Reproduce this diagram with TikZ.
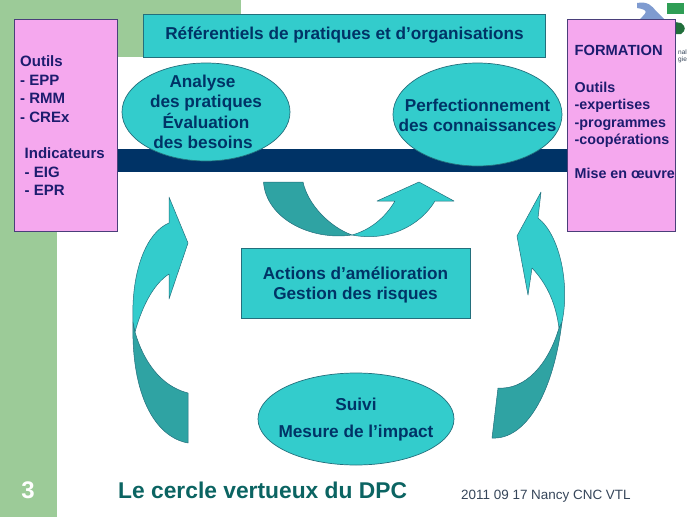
\documentclass[tikz,border=0pt]{standalone}
\usepackage{fontspec}
\setmainfont{Liberation Sans}
\usetikzlibrary{shapes.geometric}
\definecolor{sage}{HTML}{9CCB98}
\definecolor{tealfill}{HTML}{33CCCC}
\definecolor{tealdark}{HTML}{2FA3A3}
\definecolor{tealedge}{HTML}{236F7C}
\definecolor{orchid}{HTML}{F5A8EE}
\definecolor{orchidedge}{HTML}{4A3F7A}
\definecolor{navy}{HTML}{003366}
\definecolor{plum}{HTML}{1C1C6E}
\definecolor{pine}{HTML}{0B6462}
\definecolor{slate}{HTML}{36465A}
\definecolor{logogreen}{HTML}{2F9E55}
\definecolor{logoblue}{HTML}{7F9BD0}
\tikzset{
  tealbox/.style={draw=tealedge,fill=tealfill,line width=0.7pt,inner sep=0pt},
  tealoval/.style={tealbox,ellipse},
  pinkbox/.style={draw=orchidedge,fill=orchid,line width=0.7pt,inner sep=0pt},
  lighthook/.style={draw=tealedge,fill=tealfill,line width=0.5pt,line join=round},
  darkhook/.style={draw=tealedge,fill=tealdark,line width=0.5pt,line join=round},
  bluetext/.style={text=navy,font=\fontsize{17.2}{20.5}\selectfont\bfseries,align=center,inner sep=0pt},
  sidetext/.style={text=plum,font=\fontsize{15}{18.5}\selectfont\bfseries,align=left,inner sep=0pt,anchor=north west},
  formtext/.style={sidetext,font=\fontsize{14.3}{17.3}\selectfont\bfseries},
  logotext/.style={text=slate,font=\fontsize{6.5}{8}\selectfont,anchor=west,inner sep=0pt},
}
\begin{document}
\begin{tikzpicture}[x=1pt,y=-1pt]
  \useasboundingbox (0,0) rectangle (689,517);
  % slide background
  \fill[white] (0,0) rectangle (689,517);
  \fill[sage] (0,0) rectangle (57,517);
  \fill[sage] (0,0) rectangle (241,57);
  % logo behind the right box
  \fill[logogreen] (667,3) rectangle (684,14);
  \fill[logogreen!70!black] (675,22) -- (681,23) .. controls (686,26) and (686,31) .. (681,34) -- (675,34) -- cycle;
  \fill[logoblue] (637,3) .. controls (648,1) and (652,6) .. (656,11) -- (664,19) -- (640,19) .. controls (646,13) and (650,10) .. (637,8) -- cycle;
  \node[logotext] (logotop) at (678,52) {nal};
  \node[logotext] (logobot) at (678,60) {gie};
  % navy bar
  \fill[navy] (117,149) rectangle (567,172);
  % top box
  \node[tealbox,minimum width=402pt,minimum height=43pt,bluetext] (referentiels) at (344.5,35.5) {Référentiels de pratiques et d’organisations};
  % side boxes
  \node[pinkbox,minimum width=103pt,minimum height=212pt] (outilsbox) at (65.5,125) {};
  \node[pinkbox,minimum width=108pt,minimum height=212pt] (formationbox) at (621.5,125) {};
  \node[sidetext] (outilstext) at (20,55.5) {Outils\\- EPP\\- RMM\\- CREx};
  \node[sidetext] (indictext) at (24.5,147.5) {Indicateurs\\- EIG\\- EPR};
  \node[sidetext,font=\fontsize{14.7}{18}\selectfont\bfseries] (formationtext) at (574.5,45) {FORMATION};
  \node[formtext] (moyenstext) at (574.5,82) {Outils\\-expertises\\-programmes\\-coopérations};
  \node[formtext] (miseenoeuvre) at (574.5,168) {Mise en œuvre};
  % ovals
  \node[tealoval,minimum width=168pt,minimum height=98pt] (analyse) at (206,112) {};
  \node[bluetext] (analysetext) at (analyse) {Analyse\kern7pt\relax\\des pratiques\\Évaluation\\des besoins\kern6pt\relax};
  \node[tealoval,minimum width=169pt,minimum height=103pt] (perfection) at (477.5,114.5) {};
  \node[bluetext] (perfectiontext) at ([yshift=-1pt]perfection.center) {Perfectionnement\\des connaissances};
  \node[tealbox,minimum width=229pt,minimum height=70pt] (actions) at (355.5,283) {};
  \node[bluetext] (actionstext) at ([yshift=-2pt]actions.center) {Actions d’amélioration\\Gestion des risques};
  \node[tealoval,minimum width=196pt,minimum height=92pt] (suivi) at (356,419) {};
  \node[bluetext,font=\fontsize{17.2}{27}\selectfont\bfseries] (suivitext) at ([yshift=-1pt]suivi.center) {Suivi\\Mesure de l’impact};
  % middle hook
  \draw[darkhook] (263.5,182) -- (303,182) .. controls (308,205) and (330,227) .. (352,235) .. controls (310,241) and (266,218) .. (263.5,182) -- cycle;
  \draw[lighthook] (352,235) .. controls (370,230) and (385,218) .. (395,201) -- (377,201) -- (419,182) -- (454,201) -- (435,201) .. controls (420,226) and (388,242) .. (352,235) -- cycle;
  % left hook
  \draw[darkhook] (135,332) .. controls (143,360) and (160,386) .. (188,393) -- (188,443) .. controls (155,437) and (131,395) .. (133,322) -- cycle;
  \draw[lighthook] (135,332) .. controls (141,310) and (152,285) .. (169,274) -- (169,299) -- (188,243) -- (169,197) -- (169,223) .. controls (147,232) and (131,270) .. (133,322) -- cycle;
  % right hook
  \draw[darkhook] (559,328) .. controls (548,365) and (525,390) .. (498,388) -- (492,438) .. controls (525,440) and (553,395) .. (562,322) -- cycle;
  \draw[lighthook] (559,328) .. controls (556,305) and (548,285) .. (532,268) -- (528,295) -- (517,236) -- (541,192) -- (538,218) .. controls (560,235) and (570,285) .. (562,322) -- cycle;
  % footer
  \node[text=white,font=\fontsize{24}{26}\selectfont\bfseries,inner sep=0pt] (pagenum) at (28,490) {3};
  \node[text=pine,font=\fontsize{22.8}{26}\selectfont\bfseries,anchor=west,inner sep=0pt] (title) at (118,490) {Le cercle vertueux du DPC};
  \node[text=slate,font=\fontsize{13.45}{15}\selectfont,anchor=west,inner sep=0pt] (datenote) at (461,496) {2011 09 17 Nancy CNC VTL};
\end{tikzpicture}
\end{document}
